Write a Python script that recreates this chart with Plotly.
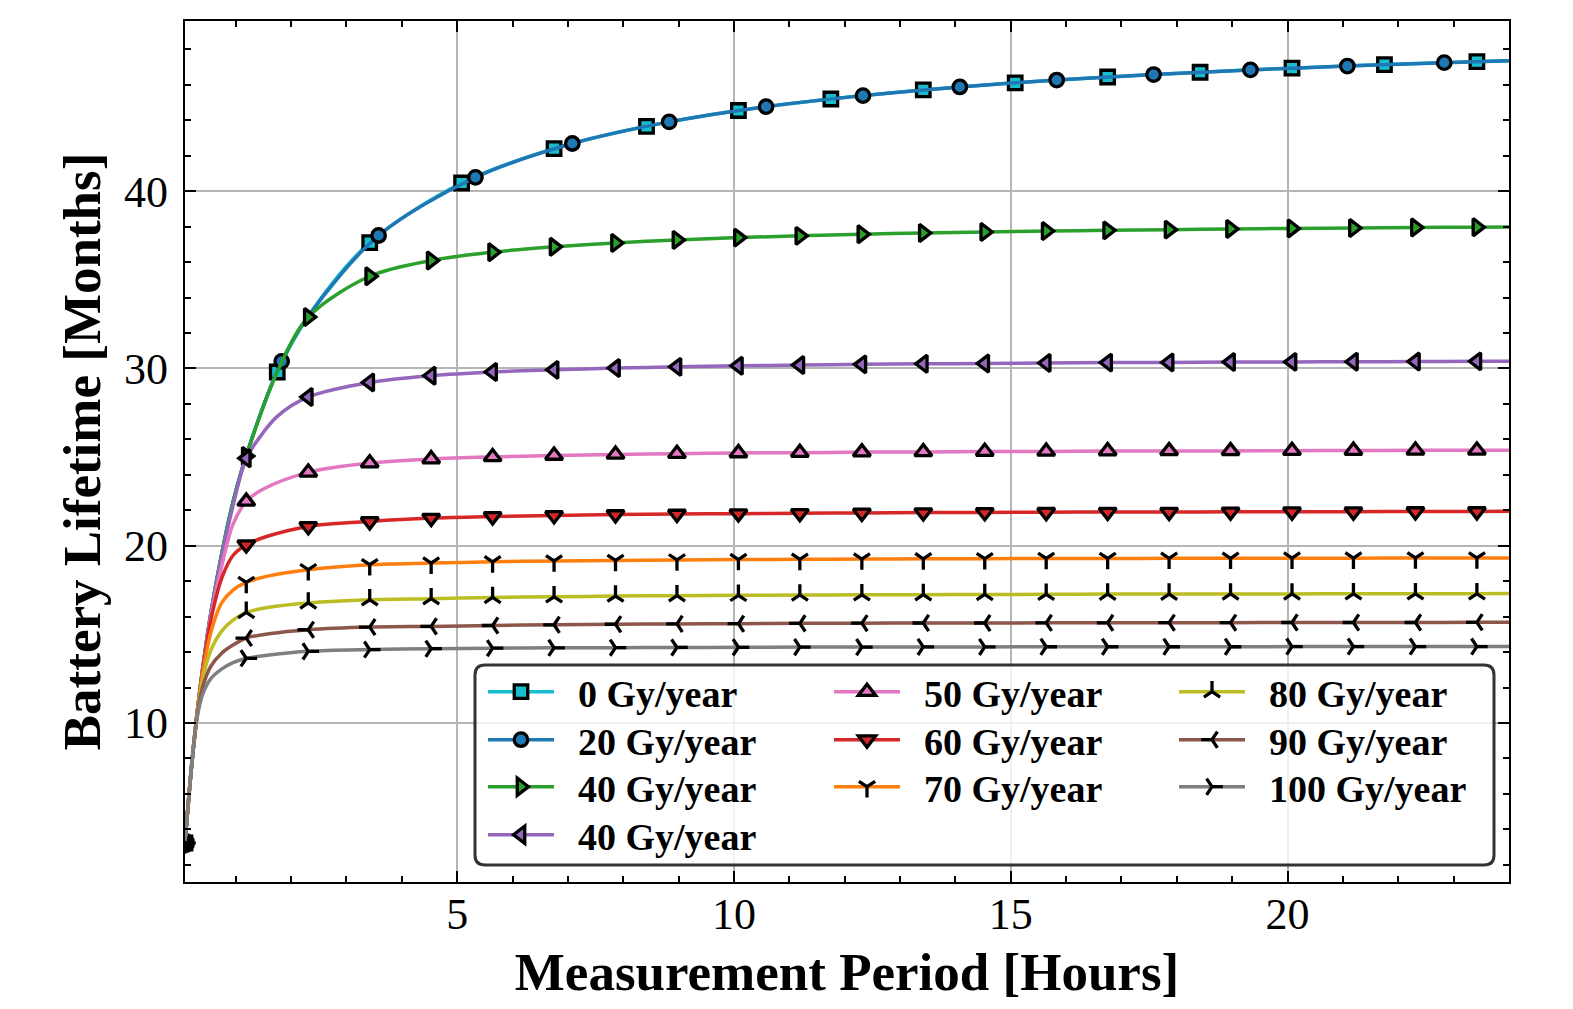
import plotly.graph_objects as go

# ---------------- data ----------------
X_TRI = [0.083, 1.19, 2.31, 3.42, 4.53, 5.64, 6.75, 7.86, 8.97, 10.08, 11.19,
         12.31, 13.42, 14.53, 15.64, 16.75, 17.86, 18.97, 20.08, 21.19, 22.31, 23.42]
X_SQ = [0.083, 1.75, 3.42, 5.08, 6.75, 8.42, 10.08, 11.75, 13.42, 15.08, 16.75,
        18.42, 20.08, 21.75, 23.42]
X_CI = [0.083, 1.83, 3.58, 5.33, 7.08, 8.83, 10.58, 12.33, 14.08, 15.83, 17.58,
        19.33, 21.08, 22.83]

Y_0 = [3.23, 29.8, 37.1, 40.46, 42.4, 43.66, 44.55, 45.2, 45.71, 46.11, 46.44,
       46.71, 46.94, 47.14, 47.31]
Y_20 = [3.23, 30.4, 37.5, 40.78, 42.69, 43.91, 44.77, 45.39, 45.88, 46.27, 46.58,
        46.84, 47.06, 47.25]
Y_40A = [3.23, 25.06, 32.9, 35.2, 36.09, 36.56, 36.86, 37.08, 37.25, 37.38, 37.48,
         37.57, 37.64, 37.70, 37.75, 37.79, 37.83, 37.87, 37.90, 37.92, 37.95, 37.97]
Y_40B = [3.23, 24.93, 28.39, 29.21, 29.59, 29.8, 29.92, 30.02, 30.09, 30.15, 30.19,
         30.23, 30.26, 30.28, 30.31, 30.33, 30.34, 30.36, 30.37, 30.38, 30.39, 30.40]
Y_50 = [3.23, 22.5, 24.14, 24.66, 24.89, 25.01, 25.09, 25.15, 25.19, 25.23, 25.25,
        25.28, 25.29, 25.31, 25.32, 25.34, 25.35, 25.35, 25.36, 25.37, 25.38, 25.38]
Y_60 = [3.23, 20.06, 21.09, 21.37, 21.56, 21.65, 21.71, 21.76, 21.79, 21.81, 21.83,
        21.85, 21.87, 21.88, 21.89, 21.90, 21.90, 21.91, 21.92, 21.92, 21.93, 21.93]
Y_70 = [3.23, 17.93, 18.65, 18.93, 19.02, 19.09, 19.14, 19.17, 19.20, 19.22, 19.23,
        19.25, 19.26, 19.27, 19.28, 19.28, 19.29, 19.29, 19.30, 19.30, 19.31, 19.31]
Y_80 = [3.23, 16.24, 16.77, 16.95, 17.01, 17.08, 17.12, 17.16, 17.18, 17.20, 17.22,
        17.23, 17.24, 17.25, 17.26, 17.27, 17.27, 17.28, 17.28, 17.29, 17.29, 17.29]
Y_90 = [3.23, 14.79, 15.26, 15.41, 15.45, 15.50, 15.54, 15.57, 15.59, 15.60, 15.62,
        15.63, 15.64, 15.64, 15.65, 15.65, 15.66, 15.66, 15.67, 15.67, 15.67, 15.68]
Y_100 = [3.23, 13.65, 14.04, 14.14, 14.19, 14.22, 14.24, 14.25, 14.26, 14.27, 14.28,
         14.28, 14.29, 14.29, 14.30, 14.30, 14.30, 14.30, 14.31, 14.31, 14.31, 14.31]

# extra curve points (between markers: early knee, mid points, right end)
KNEE_X = [0.2, 0.3, 0.4, 0.55, 0.75, 0.95]
K_0 = [7.5, 10.5, 13.0, 16.2, 19.6, 22.45]
K_20 = [7.5, 10.5, 13.0, 16.2, 19.6, 22.45]
K_40A = [7.5, 10.5, 13.0, 16.2, 19.6, 22.45]
K_40B = [7.5, 10.5, 13.0, 16.15, 19.45, 22.25]
K_50 = [7.5, 10.5, 12.95, 16.0, 18.9, 21.2]
K_60 = [7.5, 10.5, 12.9, 15.8, 18.2, 19.45]
K_70 = [7.5, 10.45, 12.7, 15.1, 16.8, 17.5]
K_80 = [7.5, 10.4, 12.45, 14.1, 15.2, 15.8]
K_90 = [7.5, 10.35, 12.0, 13.2, 13.95, 14.4]
K_100 = [7.5, 10.25, 11.6, 12.5, 13.05, 13.4]

MID_0 = ([1.19, 2.31], [25.1, 32.95])
MID_20 = ([1.19, 2.31], [25.1, 32.95])
MID_40A = ([1.75], [29.8])
MID_40B = ([1.5, 1.75], [26.4, 27.3])
MID_50 = ([1.5], [23.2])
MID_60 = ([1.6], [20.56])
MID_70 = ([1.6], [18.3])
MID_80 = ([1.6], [16.53])
MID_90 = ([1.6], [15.03])
MID_100 = ([1.6], [13.83])

X_END = 24.0
END = {"0": 47.36, "20": 47.36, "40a": 37.98, "40b": 30.41, "50": 25.39,
       "60": 21.94, "70": 19.31, "80": 17.30, "90": 15.68, "100": 14.31}

LABELS = ["0 Gy/year", "20 Gy/year", "40 Gy/year", "40 Gy/year", "50 Gy/year",
          "60 Gy/year", "70 Gy/year", "80 Gy/year", "90 Gy/year", "100 Gy/year"]
KEYS = ["0", "20", "40a", "40b", "50", "60", "70", "80", "90", "100"]
COLORS = ["#17becf", "#1f77b4", "#2ca02c", "#9467bd", "#e377c2",
          "#d62728", "#ff7f0e", "#bcbd22", "#8c564b", "#7f7f7f"]
SYMBOLS = ["square", "circle", "triangle-right", "triangle-left", "triangle-up",
           "triangle-down", "y-down", "y-up", "y-left", "y-right"]
MX = [X_SQ, X_CI, X_TRI, X_TRI, X_TRI, X_TRI, X_TRI, X_TRI, X_TRI, X_TRI]
MY = [Y_0, Y_20, Y_40A, Y_40B, Y_50, Y_60, Y_70, Y_80, Y_90, Y_100]
KN = [K_0, K_20, K_40A, K_40B, K_50, K_60, K_70, K_80, K_90, K_100]
MIDS = [MID_0, MID_20, MID_40A, MID_40B, MID_50, MID_60, MID_70, MID_80, MID_90, MID_100]
# legend grid position (column, row) of each entry
LEG_COL = [0, 0, 0, 0, 1, 1, 1, 2, 2, 2]
LEG_ROW = [0, 1, 2, 3, 0, 1, 2, 0, 1, 2]

FONT = "Liberation Serif"
LINE_W = 3.5

fig = go.Figure()


def marker_style(sym, color):
    if sym.startswith("y-"):
        return dict(symbol=sym, size=13.5, color=color, line=dict(color="black", width=3.3))
    if sym.startswith("triangle"):
        size = 15
    else:
        size = 13.5
    return dict(symbol=sym, size=size, color=color, line=dict(color="black", width=3.3))


for i, key in enumerate(KEYS):
    pts = {}
    for x, y in zip(MX[i], MY[i]):
        pts[x] = y
    for x, y in zip(KNEE_X, KN[i]):
        pts[x] = y
    for x, y in zip(MIDS[i][0], MIDS[i][1]):
        pts[x] = y
    pts[X_END] = END[key]
    xs = sorted(pts)
    ys = [pts[x] for x in xs]
    fig.add_trace(go.Scatter(x=xs, y=ys, mode="lines",
                             line=dict(color=COLORS[i], width=LINE_W, shape="spline", smoothing=0.9),
                             showlegend=False, hoverinfo="skip"))
    fig.add_trace(go.Scatter(x=MX[i], y=MY[i], mode="markers",
                             marker=marker_style(SYMBOLS[i], COLORS[i]),
                             showlegend=False))

# ---------------- layout ----------------
# the page body has an 8 px margin, so the figure is shifted by OFF px
OFF = 8
W, H = 1573 - 2 * OFF, 1009 - 2 * OFF
# plot-area edges in window pixels
WIN_L, WIN_R, WIN_T, WIN_B = 185, 1509, 21, 882
L, R, T, B = WIN_L - OFF, W - (WIN_R - OFF), WIN_T - OFF, H - (WIN_B - OFF)
PW, PH = W - L - R, H - T - B


def px_x(p):  # window px -> paper x
    return (p - OFF - L) / PW


def px_y(p):  # window px -> paper y
    return (H - B - (p - OFF)) / PH


# legend frame (rounded)
bx0, bx1, by0, by1 = px_x(475), px_x(1494), px_y(865), px_y(665)
rx, ry = 10 / PW, 10 / PH
path = (f"M{bx0+rx},{by0} L{bx1-rx},{by0} Q{bx1},{by0} {bx1},{by0+ry} "
        f"L{bx1},{by1-ry} Q{bx1},{by1} {bx1-rx},{by1} L{bx0+rx},{by1} "
        f"Q{bx0},{by1} {bx0},{by1-ry} L{bx0},{by0+ry} Q{bx0},{by0} {bx0+rx},{by0} Z")

COL_X = [483, 829, 1174]          # window px of legend column left edges
ROW_Y = [692, 740, 787, 835]      # window px of legend row centres

legends = {}
for i, key in enumerate(KEYS):
    lname = "legend" if i == 0 else f"legend{i+1}"
    legends[lname] = dict(bgcolor="rgba(0,0,0,0)", borderwidth=0, yanchor="middle",
                          xanchor="left", x=px_x(COL_X[LEG_COL[i]]), y=px_y(ROW_Y[LEG_ROW[i]]),
                          font=dict(family=FONT, size=38, color="black", weight="bold"),
                          itemwidth=66, orientation="v")
    fig.add_trace(go.Scatter(x=[None], y=[None], mode="lines+markers",
                             name="\u00a0\u00a0" + LABELS[i],
                             line=dict(color=COLORS[i], width=LINE_W),
                             marker=marker_style(SYMBOLS[i], COLORS[i]),
                             legend=lname))

axis_common = dict(ticks="inside", ticklen=11, tickwidth=2, tickcolor="black",
                   showline=True, linewidth=2.2, linecolor="black", mirror="ticks",
                   showgrid=True, gridcolor="#b5b5b5", gridwidth=1.5, zeroline=False,
                   tickfont=dict(family=FONT, size=44, color="black"))

fig.update_layout(
    width=W, height=H,
    margin=dict(l=L, r=R, t=T, b=B, autoexpand=False),
    plot_bgcolor="white", paper_bgcolor="white",
    xaxis=dict(range=[0.0833, 24], tick0=0, dtick=5, ticklabelstandoff=-8,
               minor=dict(dtick=1, ticks="inside", ticklen=6, tickwidth=1.8,
                          tickcolor="black", showgrid=False),
               title=dict(text="Measurement Period [Hours]", standoff=16,
                          font=dict(family=FONT, size=53, color="black", weight="bold")),
               **axis_common),
    yaxis=dict(range=[1.03, 49.6], tick0=0, dtick=10, ticklabelstandoff=6,
               minor=dict(dtick=2, ticks="inside", ticklen=6, tickwidth=1.8,
                          tickcolor="black", showgrid=False),
               title=dict(text="Battery Lifetime [Months]", standoff=7,
                          font=dict(family=FONT, size=53, color="black", weight="bold")),
               **axis_common),
    shapes=[dict(type="path", path=path, xref="paper", yref="paper", layer="above",
                 fillcolor="rgba(255,255,255,0.8)", line=dict(color="#333333", width=3))],
    showlegend=True,
    **legends,
)

fig.write_html("out.html")
